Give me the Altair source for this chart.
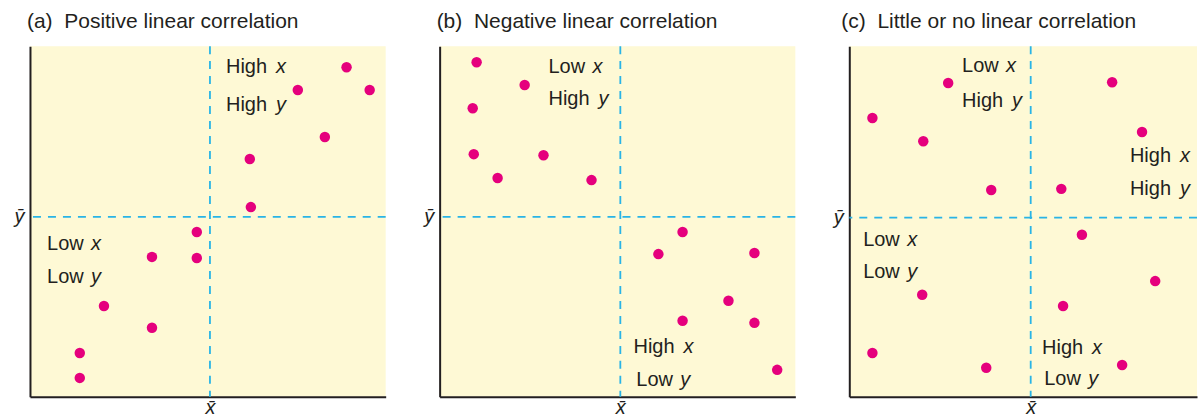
import altair as alt
import pandas as pd

FONT = "Liberation Sans"
INK = "#231f20"
DOT = "#e5007d"
DASH = "#29b4e6"
PAPER = "#fef9d5"

# Panel (a): positive linear correlation
a_x = [89.0, 75.3, 95.5, 82.9, 61.8, 62.1, 46.9, 34.3, 46.9, 20.8, 34.3, 14.0, 14.0]
a_y = [94.0, 87.5, 87.5, 74.1, 67.8, 54.1, 47.0, 39.9, 39.6, 25.9, 19.7, 12.5, 5.4]
a_xbar, a_ybar = 50.6, 51.3
a_word = ["High", "High", "Low", "Low"]
a_var = ["x", "y", "x", "y"]
a_lx = [55.1, 55.1, 4.8, 4.8]
a_ly = [92.3, 81.5, 41.9, 32.5]

# Panel (b): negative linear correlation
b_x = [10.4, 23.9, 9.3, 9.6, 29.2, 16.3, 42.7, 68.3, 61.5, 88.5, 81.2, 68.3, 88.5, 94.9]
b_y = [95.4, 88.9, 82.3, 69.2, 68.9, 62.4, 61.8, 47.0, 40.7, 41.0, 27.4, 21.7, 21.1, 7.7]
b_xbar, b_ybar = 50.8, 51.3
b_word = ["Low", "High", "High", "Low"]
b_var = ["x", "y", "x", "y"]
b_lx = [30.6, 30.6, 54.5, 55.3]
b_ly = [92.3, 83.2, 12.5, 3.1]

# Panel (c): little or no linear correlation
c_x = [27.8, 73.9, 6.5, 20.8, 82.3, 39.9, 59.6, 65.4, 20.5, 86.0, 60.1, 6.5, 38.5, 76.7]
c_y = [89.5, 89.7, 79.5, 72.9, 75.5, 59.0, 59.3, 46.2, 29.1, 33.0, 25.9, 12.5, 8.3, 9.1]
c_xbar, c_ybar = 51.0, 51.1
c_word = ["Low", "High", "High", "High", "Low", "Low", "High", "Low"]
c_var = ["x", "y", "x", "y", "x", "y", "x", "y"]
c_lx = [31.7, 31.7, 78.9, 78.9, 3.9, 3.9, 54.2, 54.8]
c_ly = [92.6, 82.6, 67.0, 57.5, 43.0, 33.9, 12.3, 3.4]

PX_PER_UNIT = 3.56
HEIGHT = 351


def panel(title, title_dx, xs, ys, xbar, ybar, words, vars_, lx, ly, width):
    pts = pd.DataFrame({"x": xs, "y": ys})
    labs = pd.DataFrame({"word": words, "var": vars_, "x": lx, "y": ly})
    means = pd.DataFrame({"xbar": [xbar], "ybar": [ybar]})

    xscale = alt.Scale(domain=[0, width / PX_PER_UNIT], nice=False, zero=False)
    yscale = alt.Scale(domain=[0, 100], nice=False, zero=False)

    # one mark on each axis: x-bar under the x axis, y-bar beside the y axis
    xaxis = alt.Axis(values=[xbar], labelExpr="'x\u0304'", title=None, ticks=False,
                     grid=False, domainColor=INK, domainWidth=2, labelFont=FONT,
                     labelFontStyle="italic", labelFontSize=20, labelColor=INK,
                     labelPadding=1, labelFlush=False)
    yaxis = alt.Axis(values=[ybar], labelExpr="'\u0233'", title=None, ticks=False,
                     grid=False, domainColor=INK, domainWidth=2, labelFont=FONT,
                     labelFontStyle="italic", labelFontSize=20, labelColor=INK,
                     labelPadding=6, labelBaseline="middle")

    def X(field):
        return alt.X(field, scale=xscale, axis=xaxis)

    def Y(field):
        return alt.Y(field, scale=yscale, axis=yaxis)

    vline = alt.Chart(means).mark_rule(color=DASH, strokeWidth=1.8, strokeDash=[8, 7]).encode(
        x=X("xbar:Q"))
    hline = alt.Chart(means).mark_rule(color=DASH, strokeWidth=1.8, strokeDash=[8, 7]).encode(
        y=Y("ybar:Q"))

    dots = alt.Chart(pts).mark_circle(size=110, color=DOT, opacity=1).encode(
        x=X("x:Q"), y=Y("y:Q"))

    word = alt.Chart(labs).mark_text(align="left", baseline="alphabetic", font=FONT,
                                     fontSize=20, color=INK).encode(
        x=X("x:Q"), y=Y("y:Q"), text="word:N")
    var_high = alt.Chart(labs).transform_filter(alt.datum.word == "High").mark_text(
        align="left", baseline="alphabetic", font=FONT, fontSize=20, fontStyle="italic",
        color=INK, dx=50).encode(x=X("x:Q"), y=Y("y:Q"), text="var:N")
    var_low = alt.Chart(labs).transform_filter(alt.datum.word == "Low").mark_text(
        align="left", baseline="alphabetic", font=FONT, fontSize=20, fontStyle="italic",
        color=INK, dx=44).encode(x=X("x:Q"), y=Y("y:Q"), text="var:N")

    return alt.layer(vline, hline, dots, word, var_high, var_low).properties(
        width=width, height=HEIGHT,
        title=alt.TitleParams(title, anchor="start", frame="group", dx=title_dx,
                              fontSize=21, font=FONT, fontWeight="normal", color=INK,
                              baseline="alphabetic", offset=-4))


pa = panel("(a)\u00a0\u00a0Positive linear correlation", -3,
           a_x, a_y, a_xbar, a_ybar, a_word, a_var, a_lx, a_ly, 356)
pb = panel("(b)\u00a0\u00a0Negative linear correlation", -3,
           b_x, b_y, b_xbar, b_ybar, b_word, b_var, b_lx, b_ly, 356)
pc = panel("(c)\u00a0\u00a0Little or no linear correlation", -8,
           c_x, c_y, c_xbar, c_ybar, c_word, c_var, c_lx, c_ly, 348)

chart = alt.hconcat(pa, pb, pc, spacing=54, bounds="flush").properties(
    padding={"left": 14, "top": 11, "right": 0, "bottom": -1},
    background="white",
).configure_view(fill=PAPER, stroke=None)

chart.save("out.html", embed_options={"renderer": "svg", "actions": False})
